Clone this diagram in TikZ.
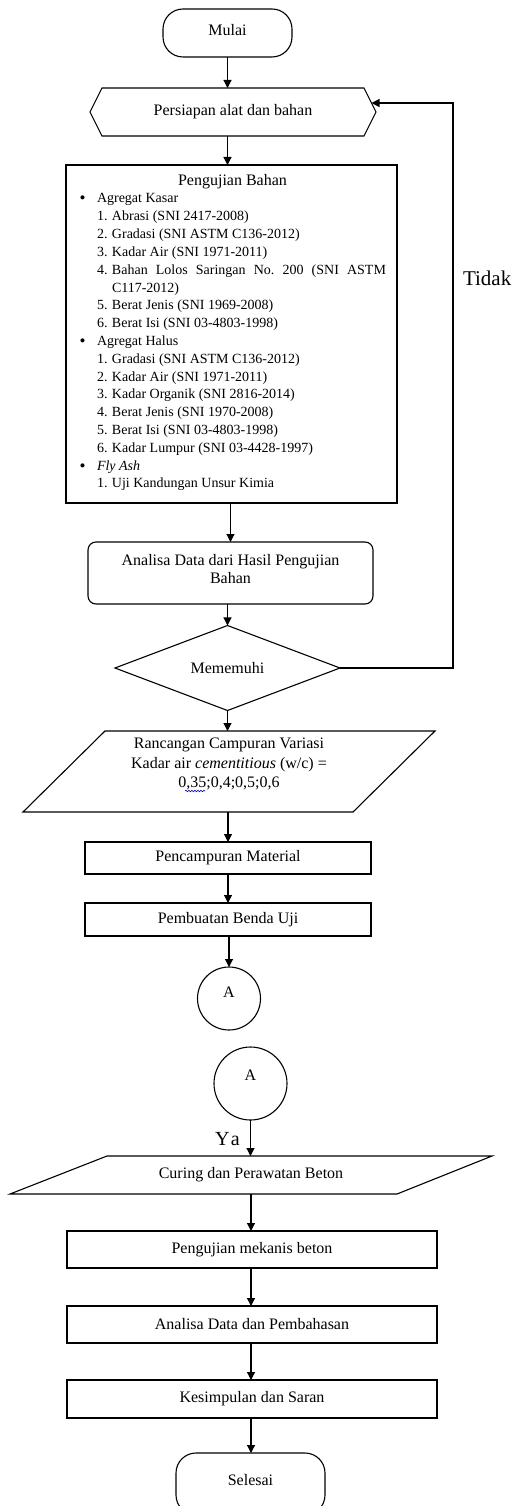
\documentclass[tikz,border=0pt]{standalone}
\usepackage{fontspec}
\setmainfont{Liberation Serif}
\usetikzlibrary{arrows.meta,shapes.geometric,decorations.pathmorphing}
\begin{document}
\frenchspacing
\begin{tikzpicture}[x=1pt,y=-1pt,line width=1.1pt,
  base/.style={inner sep=0pt,outer sep=0pt,font=\fontsize{16}{18.4}\selectfont,align=center},
  term/.style={base,draw,rounded corners=20pt},
  proc/.style={base,draw},
  arr/.style={-{Triangle[length=8pt,width=8pt]}},
  lst/.style={inner sep=0pt,outer sep=0pt,anchor=base west,font=\fontsize{14}{17}\selectfont},
  bul/.style={inner sep=0pt,outer sep=0pt,anchor=base west,font=\fontsize{17}{17}\selectfont},
  big/.style={inner sep=0pt,outer sep=0pt,anchor=base west,font=\fontsize{21}{24}\selectfont}]
\useasboundingbox (0,0) rectangle (513,1506);
\fill[white] (0,0) rectangle (513,1506);

% top terminal
\node[term,minimum width=129pt,minimum height=48pt,text depth=6pt] (mulai) at (227.5,33) {Mulai};

% preparation (hexagon)
\node[base,minimum width=286pt,minimum height=48pt] (prep) at (233,112) {Persiapan alat dan bahan};
\draw (prep.west) -- ([xshift=12pt]prep.north west) -- ([xshift=-12pt]prep.north east) -- (prep.east)
      -- ([xshift=-12pt]prep.south east) -- ([xshift=12pt]prep.south west) -- cycle;

% material testing box
\node[proc,minimum width=331pt,minimum height=338pt] (uji) at (231.5,334) {};
\node[base,anchor=base] (ujit) at (232.5,186) {Pengujian Bahan};
\node[bul] (b1) at (79.5,204) {\textbullet};
\node[lst] (l0) at (97,203) {Agregat Kasar};
\node[lst] (l1) at (97,220.8) {\makebox[15pt][l]{1.}Abrasi (SNI 2417-2008)};
\node[lst] (l2) at (97,238.6) {\makebox[15pt][l]{2.}Gradasi (SNI ASTM C136-2012)};
\node[lst] (l3) at (97,256.4) {\makebox[15pt][l]{3.}Kadar Air (SNI 1971-2011)};
\node[lst] (l4) at (97,274.2) {\makebox[15pt][l]{4.}\makebox[274pt][s]{Bahan Lolos Saringan No. 200 (SNI ASTM}};
\node[lst] (l5) at (112,292) {C117-2012)};
\node[lst] (l6) at (97,309.8) {\makebox[15pt][l]{5.}Berat Jenis (SNI 1969-2008)};
\node[lst] (l7) at (97,327.6) {\makebox[15pt][l]{6.}Berat Isi (SNI 03-4803-1998)};
\node[bul] (b2) at (79.5,346.4) {\textbullet};
\node[lst] (l8) at (97,345.4) {Agregat Halus};
\node[lst] (l9) at (97,363.2) {\makebox[15pt][l]{1.}Gradasi (SNI ASTM C136-2012)};
\node[lst] (l10) at (97,381) {\makebox[15pt][l]{2.}Kadar Air (SNI 1971-2011)};
\node[lst] (l11) at (97,398.8) {\makebox[15pt][l]{3.}Kadar Organik (SNI 2816-2014)};
\node[lst] (l12) at (97,416.6) {\makebox[15pt][l]{4.}Berat Jenis (SNI 1970-2008)};
\node[lst] (l13) at (97,434.4) {\makebox[15pt][l]{5.}Berat Isi (SNI 03-4803-1998)};
\node[lst] (l14) at (97,452.2) {\makebox[15pt][l]{6.}Kadar Lumpur (SNI 03-4428-1997)};
\node[bul] (b3) at (79.5,471) {\textbullet};
\node[lst] (l15) at (97,470) {\textit{Fly Ash}};
\node[lst] (l16) at (97,487.8) {\makebox[15pt][l]{1.}Uji Kandungan Unsur Kimia};

% analysis
\node[base,draw,rounded corners=8pt,minimum width=285pt,minimum height=62pt,text depth=8pt] (ana) at (230.5,573)
  {Analisa Data dari Hasil Pengujian\\Bahan};

% decision
\node[base,draw,diamond,minimum width=225pt,minimum height=62pt] (dec) at (227.5,668) {Mememuhi};

% mix design (parallelogram)
\node[base,minimum width=412pt,minimum height=81pt,text depth=17pt] (ranc) at (229,771.5)
  {Rancangan Campuran Variasi\\[1pt]Kadar air \textit{cementitious} (w/c) =\\[1pt]0,35;0,4;0,5;0,6};
\draw ([xshift=82pt]ranc.north west) -- (ranc.north east) -- ([xshift=-82pt]ranc.south east) -- (ranc.south west) -- cycle;
\draw[blue!75!black,line width=0.6pt,decorate,decoration={snake,amplitude=0.8pt,segment length=3pt}] (185,791) -- (205,791);

\node[proc,minimum width=286pt,minimum height=32pt] (mix) at (228,858) {Pencampuran Material};
\node[proc,minimum width=286pt,minimum height=33pt] (make) at (228,919.5) {Pembuatan Benda Uji};
\node[base,draw,circle,minimum size=63pt,text depth=12pt] (a1) at (229,998.5) {A};

\node[base,draw,circle,minimum size=73pt,text depth=16pt] (a2) at (250.5,1083.5) {A};

% curing (parallelogram)
\node[base,minimum width=482pt,minimum height=38pt] (cur) at (251,1175) {Curing dan Perawatan Beton};
\draw ([xshift=97pt]cur.north west) -- (cur.north east) -- ([xshift=-95pt]cur.south east) -- (cur.south west) -- cycle;

\node[proc,minimum width=370pt,minimum height=37pt] (mek) at (252,1249.5) {Pengujian mekanis beton};
\node[proc,minimum width=370pt,minimum height=37pt] (ana2) at (252,1324.5) {Analisa Data dan Pembahasan};
\node[proc,minimum width=370pt,minimum height=38pt] (kes) at (252,1399) {Kesimpulan dan Saran};
\node[term,minimum width=149pt,minimum height=62pt,text depth=8pt] (sel) at (250.5,1484) {Selesai};

% labels
\node[big] (tidak) at (463,285) {Tidak};
\node[big,font=\fontsize{20}{24}\selectfont] (ya) at (215,1145) {Y\kern1.5pt a};

% connectors
\draw[arr] (mulai.south) -- (mulai.south |- prep.north);
\draw[arr] (prep.south -| mulai) -- (uji.north -| mulai);
\draw[arr] (uji.south -| ana) -- (ana.north);
\draw[arr] (ana.south -| dec) -- (dec.north);
\draw[arr] (dec.south) -- (dec.south |- ranc.north);
\draw[arr] (ranc.south -| mix) -- (mix.north);
\draw[arr] (mix.south) -- (make.north);
\draw[arr] (make.south -| a1) -- (a1.north);
\draw[arr] (a2.south) -- (a2.south |- cur.north);
\draw[arr] (cur.south) -- (cur.south |- mek.north);
\draw[arr] (mek.south -| cur) -- (ana2.north -| cur);
\draw[arr] (ana2.south -| cur) -- (kes.north -| cur);
\draw[arr] (kes.south -| cur) -- (sel.north -| cur);
\coordinate (fbc) at (453,103);
\coordinate (fbin) at (371.5,103);
\draw[arr] (dec.east) -| (fbc) -- (fbin);
\end{tikzpicture}
\end{document}
